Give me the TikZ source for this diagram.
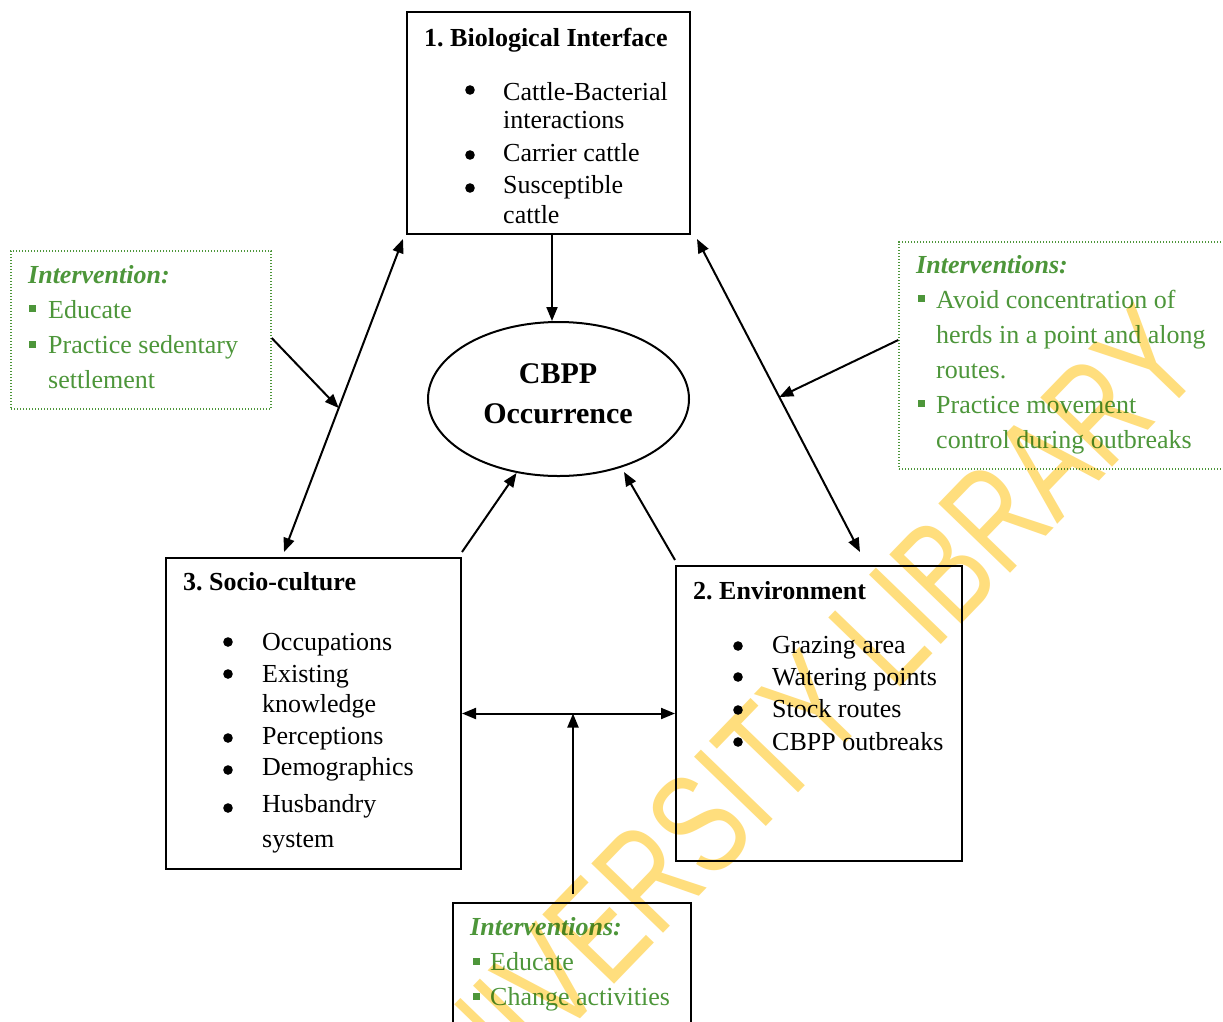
\documentclass[tikz,border=0pt]{standalone}
\usepackage{fontspec}
\setmainfont{Liberation Serif}
\newfontfamily\wmfont{Liberation Sans}
\usetikzlibrary{arrows.meta,shapes.geometric,calc}
\definecolor{grn}{RGB}{77,150,58}
\definecolor{wmy}{RGB}{255,222,125}
\frenchspacing
\begin{document}
\begin{tikzpicture}[x=1pt,y=-1pt,
  box/.style={draw, line width=2pt, inner sep=0pt},
  gbox/.style={draw=grn, line width=1.4pt, dash pattern=on 1.4pt off 1.6pt, inner sep=0pt},
  txt/.style={anchor=base west, inner sep=0pt, font=\fontsize{26}{32}\selectfont},
  ttl/.style={anchor=base west, inner sep=0pt, font=\fontsize{26}{32}\selectfont\bfseries},
  gtxt/.style={txt, text=grn},
  gttl/.style={anchor=base west, inner sep=0pt, text=grn, font=\fontsize{26}{32}\selectfont\bfseries\itshape},
  big/.style={anchor=base, inner sep=0pt, font=\fontsize{30}{40}\selectfont\bfseries},
  arr/.style={line width=2pt, -{Triangle[length=14pt,width=11pt]}},
  darr/.style={line width=2pt, {Triangle[length=14pt,width=11pt]}-{Triangle[length=14pt,width=11pt]}},
  dot/.style={fill=black},
  gsq/.style={fill=grn}
]
\clip (0,0) rectangle (1223,1021);
\fill[white] (0,0) rectangle (1223,1021);

% boxes
\node[box, minimum width=283, minimum height=222] (b1) at (548.5,123) {};
\node[box, minimum width=295, minimum height=311] (b3) at (313.5,713.5) {};
\node[box, minimum width=286, minimum height=295] (b2) at (819,713.5) {};
\node[box, minimum width=238, minimum height=137] (bi) at (572,971.5) {};
\node[gbox, minimum width=260, minimum height=158] (gl) at (141,330) {};
\node[gbox, minimum width=331, minimum height=227] (gr) at (1064.5,355.5) {};
\node[ellipse, draw, line width=2pt, minimum width=261, minimum height=154, inner sep=0pt] (ell) at (558.5,399) {};

% ellipse text
\node[big] (c1) at (558,383) {CBPP};
\node[big] (c2) at (558,423) {Occurrence};

% box 1
\node[ttl] (t1) at (424,46) {1. Biological Interface};
\foreach \y in {90,155,188} \fill[dot] (470,\y) circle (4.8);
\node[txt] (t1a) at (503,100) {Cattle-Bacterial};
\node[txt] (t1b) at (503,128) {interactions};
\node[txt] (t1c) at (503,161) {Carrier cattle};
\node[txt] (t1d) at (503,193) {Susceptible};
\node[txt] (t1e) at (503,223) {cattle};

% box 3
\node[ttl] (t3) at (183,590) {3. Socio-culture};
\foreach \y in {642,674,738,770,808} \fill[dot] (228,\y) circle (4.8);
\node[txt] (t3a) at (262,650) {Occupations};
\node[txt] (t3b) at (262,682) {Existing};
\node[txt] (t3c) at (262,712) {knowledge};
\node[txt] (t3d) at (262,744) {Perceptions};
\node[txt] (t3e) at (262,775) {Demographics};
\node[txt] (t3f) at (262,812) {Husbandry};
\node[txt] (t3g) at (262,847) {system};

% box 2
\node[ttl] (t2) at (693,599) {2. Environment};
\foreach \y in {646,677,710,742} \fill[dot] (738,\y) circle (4.8);
\node[txt] (t2a) at (772,653) {Grazing area};
\node[txt] (t2b) at (772,685) {Watering points};
\node[txt] (t2c) at (772,717) {Stock routes};
\node[txt] (t2d) at (772,750) {CBPP outbreaks};

% left green box
\node[gttl] (gl0) at (28,283) {Intervention:};
\foreach \y in {308,344} \fill[gsq] (28.5,\y-3.5) rectangle (35.5,\y+3.5);
\node[gtxt] (gl1) at (48,318) {Educate};
\node[gtxt] (gl2) at (48,353) {Practice sedentary};
\node[gtxt] (gl3) at (48,388) {settlement};

% right green box
\node[gttl] (gr0) at (916,273) {Interventions:};
\foreach \y in {298,403} \fill[gsq] (917.5,\y-3.5) rectangle (924.5,\y+3.5);
\node[gtxt] (gr1) at (936,308) {Avoid concentration of};
\node[gtxt] (gr2) at (936,343) {herds in a point and along};
\node[gtxt] (gr3) at (936,378) {routes.};
\node[gtxt] (gr4) at (936,413) {Practice movement};
\node[gtxt] (gr5) at (936,448) {control during outbreaks};

% bottom box
\node[gttl] (bi0) at (470,935) {Interventions:};
\foreach \y in {961,996} \fill[gsq] (472.5,\y-3.5) rectangle (479.5,\y+3.5);
\node[gtxt] (bi1) at (490,970) {Educate};
\node[gtxt] (bi2) at (490,1005) {Change activities};

% connectors
\draw[arr] ($(b1.south)+(3.5,0)$) coordinate (bs) -- (bs |- ell.north);
\draw[darr] ($(b1.south west)+(-3,4)$) -- coordinate[pos=0.54] (ml) ($(b3.north)+(-29.5,-5)$);
\draw[darr] ($(b1.south east)+(6,4)$) -- coordinate[pos=0.505] (mr) ($(b2.north)+(41,-13)$);
\draw[arr] (gl.east |- 0,338) -- (ml);
\draw[arr] (gr.west |- 0,340) -- (mr);
\draw[arr] ($(b3.north east)+(0,-5)$) -- ($(ell.center)+(-42,74)$);
\draw[arr] ($(b2.north west)+(0,-5)$) -- ($(ell.center)+(65.5,73)$);
\draw[darr] (b3.east) -- (b2.west);
\draw[arr] ($(bi.north)+(1,-8)$) coordinate (vs) -- (vs |- b3.east);

% watermark
\begin{scope}[blend mode=multiply]
\node[rotate=46, xscale=0.73, text=wmy, inner sep=0pt, font=\wmfont\fontsize{145}{145}\selectfont] (wm) at (784,736) {UNIVERSITY LIBRARY};
\end{scope}
\end{tikzpicture}
\end{document}
